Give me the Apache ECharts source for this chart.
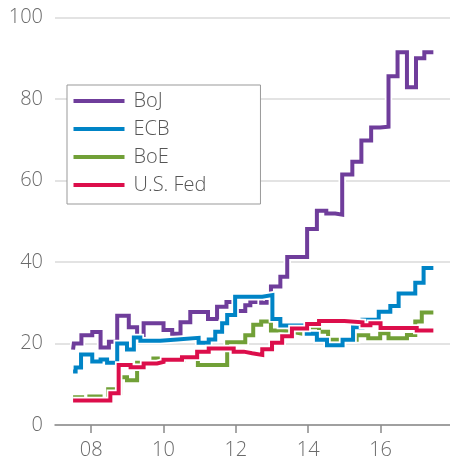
<!DOCTYPE html>
<html><head><meta charset="utf-8">
<script src="https://cdn.jsdelivr.net/npm/echarts@6/dist/echarts.min.js"></script>
<style>html,body{margin:0;padding:0;background:#fff}#c{width:450px;height:461px}</style>
</head><body><div id="c"></div>
<script>
// [decimal year, % value]
const bojData = [[2007.50,18.5],[2007.52,20.0],[2007.73,22.0],[2008.03,22.8],[2008.26,19.0],[2008.49,20.4],[2008.72,26.8],[2009.04,24.0],[2009.27,21.6],[2009.45,25.0],[2010.00,23.3],[2010.24,22.4],[2010.47,25.2],[2010.74,27.7],[2011.23,26.0],[2011.48,29.0],[2011.74,30.2],[2011.97,28.0],[2012.26,29.4],[2012.40,30.2],[2012.54,31.2],[2012.70,30.0],[2012.86,31.2],[2012.97,34.0],[2013.23,36.4],[2013.42,41.2],[2013.97,48.1],[2014.24,52.6],[2014.50,51.9],[2014.75,51.6],[2014.94,61.5],[2015.22,64.6],[2015.47,69.8],[2015.74,73.0],[2015.99,73.2],[2016.22,85.6],[2016.47,91.5],[2016.73,82.9],[2016.98,90.0],[2017.21,91.5],[2017.46,91.5]];
const ecbData = [[2007.50,13.1],[2007.57,14.1],[2007.72,17.3],[2008.03,15.6],[2008.26,16.1],[2008.44,15.3],[2008.72,20.0],[2008.99,18.5],[2009.18,21.5],[2009.36,20.7],[2009.91,21.0],[2010.38,21.4],[2010.97,20.2],[2011.25,21.0],[2011.43,22.9],[2011.62,25.0],[2011.76,27.0],[2011.98,31.5],[2012.73,31.9],[2013.01,26.0],[2013.23,24.4],[2013.96,22.4],[2014.24,20.9],[2014.52,19.6],[2014.95,20.9],[2015.24,24.0],[2015.50,25.8],[2015.95,27.8],[2016.27,29.2],[2016.50,32.3],[2016.96,34.9],[2017.19,38.5],[2017.46,38.5]];
const boeData = [[2007.50,6.8],[2007.75,6.0],[2007.95,7.0],[2008.26,6.0],[2008.47,8.8],[2008.62,7.8],[2008.80,11.7],[2008.99,11.0],[2009.27,15.3],[2009.45,15.2],[2009.72,16.3],[2009.92,15.8],[2010.55,16.3],[2010.66,16.4],[2010.95,14.7],[2011.76,20.3],[2012.26,22.0],[2012.48,24.6],[2012.70,25.4],[2012.97,23.2],[2013.25,22.9],[2013.55,22.5],[2013.78,24.6],[2013.95,24.0],[2014.30,22.9],[2014.55,20.9],[2014.93,20.9],[2015.34,22.0],[2015.66,21.3],[2015.99,22.5],[2016.22,21.3],[2016.73,22.1],[2016.96,25.4],[2017.14,27.6],[2017.46,27.6]];
const fedData = [[2007.50,6.0],[2008.53,7.8],[2008.76,14.7],[2009.09,14.2],[2009.45,15.1],[2009.82,15.5],[2010.00,16.0],[2010.51,16.6],[2010.93,18.0],[2011.25,18.8],[2011.94,18.0],[2012.22,17.6],[2012.45,17.2],[2012.73,18.6],[2013.00,20.2],[2013.28,21.8],[2013.55,23.7],[2013.97,24.8],[2014.30,25.5],[2015.00,25.2],[2015.50,24.5],[2015.72,25.0],[2016.00,23.8],[2017.00,23.2],[2017.46,23.2]];
const seriesNames = ['BoJ','ECB','BoE','U.S. Fed'];
const xTickYears = [2008,2010,2012,2014,2016];
const xTickLabels = ['08','10','12','14','16'];

const colors = {'BoJ':'#6f3d9b','ECB':'#0084c6','BoE':'#71a037','U.S. Fed':'#dc0e4b'};
const dataMap = {'BoJ':bojData,'ECB':ecbData,'BoE':boeData,'U.S. Fed':fedData};
const drawOrder = ['BoJ','BoE','ECB','U.S. Fed'];
const series = [];
drawOrder.forEach(n => {
  series.push({name: n+'_halo', type:'line', step:'end', data: dataMap[n], showSymbol:false, silent:true,
    lineStyle:{color:'#ffffff', width:7.5, cap:'butt', join:'miter'}, itemStyle:{color:'#ffffff'}, animation:false});
  series.push({name: n, type:'line', step:'end', data: dataMap[n], showSymbol:false,
    lineStyle:{color:colors[n], width:4, cap:'butt', join:'miter'}, itemStyle:{color:colors[n]}, animation:false});
});

const FONT = 'Open Sans';
const chart = echarts.init(document.getElementById('c'), null, {renderer:'canvas'});
chart.setOption({
  animation:false,
  textStyle:{fontFamily:FONT},
  grid:{left:55, right:0, top:17.5, bottom:36, containLabel:false},
  xAxis:{type:'value', min:2007.0, max:2017.92,
    axisLine:{show:true, lineStyle:{color:'#8a8a8a', width:1.5}},
    axisTick:{show:true, customValues:xTickYears, length:8, lineStyle:{color:'#8a8a8a', width:1.5}},
    axisLabel:{customValues:xTickYears, formatter:v => xTickLabels[xTickYears.indexOf(Math.round(v))] || '', color:'#6a6a6a', fontSize:20, fontWeight:300, margin:15, fontFamily:FONT},
    splitLine:{show:false}},
  yAxis:{type:'value', min:0, max:100, interval:20,
    axisLine:{show:false}, axisTick:{show:false},
    axisLabel:{color:'#6a6a6a', fontSize:20, fontWeight:300, margin:12, fontFamily:FONT},
    splitLine:{show:true, lineStyle:{color:'#dadada', width:1.5}}},
  legend:{orient:'vertical', left:67, top:85, data:seriesNames, icon:'rect', itemWidth:51, itemHeight:4, itemGap:8,
    padding:[6,54,9,6.5], borderColor:'#999', borderWidth:1, backgroundColor:'#fff',
    textStyle:{fontSize:20, fontWeight:300, color:'#555', fontFamily:FONT, lineHeight:17.5, padding:[0,0,0,4]}},
  series: series
});
</script></body></html>
